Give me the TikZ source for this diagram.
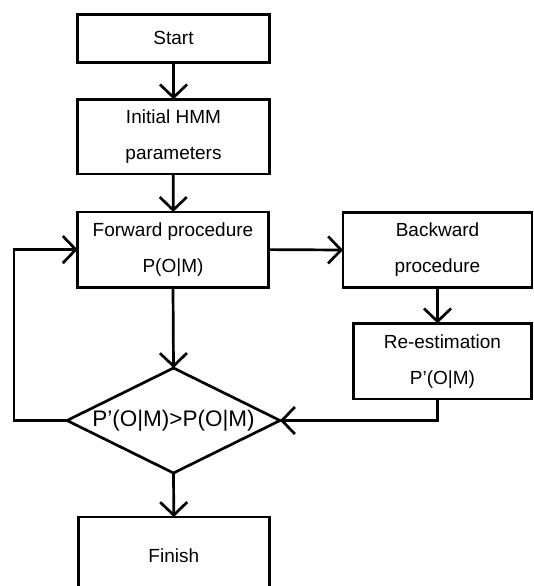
\documentclass[tikz,border=0pt]{standalone}
\usepackage{fontspec}
\setmainfont{Liberation Sans}
\usetikzlibrary{arrows.meta,shapes.geometric}

\tikzset{
  box/.style={draw, line width=2.7pt, inner sep=0pt, outer sep=0pt,
    align=center, font=\fontsize{19}{36}\selectfont},
  decision/.style={draw, diamond, aspect=2.03, line width=2.7pt, inner sep=0pt, outer sep=0pt,
    minimum width=213pt, minimum height=105pt, font=\fontsize{22.5}{27}\selectfont},
  arr/.style={line width=2.7pt, -{Straight Barb[length=13pt, width=27pt]}},
}

\begin{document}
\begin{tikzpicture}[x=1pt, y=-1pt]
  \useasboundingbox (0,0) rectangle (533,586);
  \fill[white] (0,0) rectangle (533,586);
  \clip (0,0) rectangle (533,586);

  % process steps
  \node[box, minimum width=191.6pt, minimum height=48pt]   (start) at (173.5,38.3)  {Start};
  \node[box, minimum width=191.6pt, minimum height=74.7pt] (init)  at (173.5,136.7) {Initial HMM\\parameters};
  \node[box, minimum width=190.6pt, minimum height=75.3pt] (fwd)   at (173,249.6)   {Forward procedure\\P(O|M)};
  \node[box, minimum width=189pt,   minimum height=74.6pt] (back)  at (437.5,250)   {Backward\\procedure};
  \node[box, minimum width=178.2pt, minimum height=75.7pt] (reest) at (442.4,361.2) {Re-estimation\\P’(O|M)};
  \node[decision] (dia) at (173.5,420.5) {P’(O|M)>P(O|M)};
  \node[box, minimum width=191pt,   minimum height=78pt]   (fin)   at (173.8,556)   {Finish};

  % turning point of the feedback loop
  \coordinate (loop) at (14,420.5);

  % flow
  \draw[arr] (start) -- (init);
  \draw[arr] (init) -- (fwd);
  \draw[arr] (fwd.east) -- (back.west);
  \draw[arr] (back.south) -- (back.south |- reest.north);
  \draw[arr] (fwd.south) -- (dia.north);
  \draw[arr] (back.south |- reest.south) |- (dia.east);
  \draw[arr] (dia.west) -- (loop) |- (fwd.west);
  \draw[arr] (dia.south) -- (fin.north);
\end{tikzpicture}
\end{document}
